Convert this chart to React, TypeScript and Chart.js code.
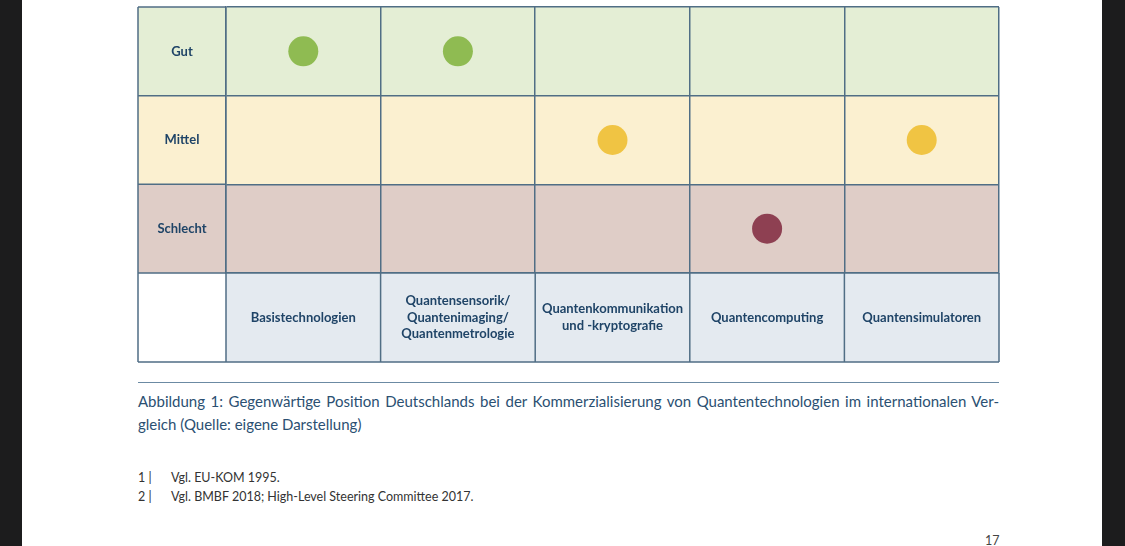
import React, { useEffect, useRef } from 'react';
import { Chart, registerables } from 'chart.js';

Chart.register(...registerables);

// ---- Data ----
const techKeys: string[] = [
  'Basistechnologien',
  'Quantensensorik',
  'Quantenkommunikation',
  'Quantencomputing',
  'Quantensimulatoren',
];
const techLabelLines: string[][] = [
  ['Basistechnologien'],
  ['Quantensensorik/', 'Quantenimaging/', 'Quantenmetrologie'],
  ['Quantenkommunikation', 'und -kryptografie'],
  ['Quantencomputing'],
  ['Quantensimulatoren'],
];
const ratingLevels: string[] = ['Gut', 'Mittel', 'Schlecht'];
const germanyPosition: string[] = ['Gut', 'Gut', 'Mittel', 'Schlecht', 'Mittel'];

const bandColors: string[] = ['#e4eed5', '#fbf0d0', '#dfcdc7'];
const dotColors: string[] = ['#8fbb52', '#f0c443', '#8e4052'];
const labelRowColor = '#e4eaf0';
const lineColor = '#506e85';
const textColor = '#1f4467';

const captionLine1 =
  'Abbildung 1: Gegenwärtige Position Deutschlands bei der Kommerzialisierung von Quantentechnologien im internationalen Ver-';
const captionLine2 = 'gleich (Quelle: eigene Darstellung)';
const footnotes: [string, string][] = [
  ['1 |', 'Vgl. EU-KOM 1995.'],
  ['2 |', 'Vgl. BMBF 2018; High-Level Steering Committee 2017.'],
];
const pageNumber = '17';

const tickFontFamily = 'Lato';
const tickFontSize = 13;
const tickLineHeight = 16.5;
const yAxisWidth = 88;
const xAxisHeight = 89;

const tablePlugin = {
  id: 'tableGrid',
  beforeDraw(chart: any) {
    const { ctx, chartArea } = chart;
    const x = chart.scales.x;
    const y = chart.scales.y;
    ctx.save();
    ratingLevels.forEach((_, i) => {
      const top = y.getPixelForValue(i - 0.5);
      const bottom = y.getPixelForValue(i + 0.5);
      ctx.fillStyle = bandColors[i];
      ctx.fillRect(y.left, top, chartArea.right - y.left, bottom - top);
    });
    ctx.fillStyle = '#ffffff';
    ctx.fillRect(y.left, x.top, chartArea.left - y.left, x.bottom - x.top);
    ctx.fillStyle = labelRowColor;
    ctx.fillRect(chartArea.left, x.top, chartArea.right - chartArea.left, x.bottom - x.top);
    ctx.restore();
  },
  beforeDatasetsDraw(chart: any) {
    const { ctx, chartArea } = chart;
    const x = chart.scales.x;
    const y = chart.scales.y;
    ctx.save();
    ctx.strokeStyle = lineColor;
    ctx.lineWidth = 1.5;
    ctx.beginPath();
    for (let i = 0; i <= ratingLevels.length; i++) {
      const py = y.getPixelForValue(i - 0.5);
      ctx.moveTo(y.left, py);
      ctx.lineTo(chartArea.left, py);
    }
    for (let i = 0; i <= techKeys.length; i++) {
      const px = x.getPixelForValue(i - 0.5);
      ctx.moveTo(px, x.top);
      ctx.lineTo(px, x.bottom);
    }
    ctx.moveTo(y.left, chartArea.top);
    ctx.lineTo(y.left, x.bottom);
    ctx.moveTo(y.left, x.bottom);
    ctx.lineTo(chartArea.right, x.bottom);
    ctx.stroke();
    ctx.restore();
  },
};

function TableChart() {
  const ref = useRef<HTMLCanvasElement | null>(null);
  useEffect(() => {
    if (!ref.current) return;
    const mctx = document.createElement('canvas').getContext('2d')!;
    mctx.font = `bold ${tickFontSize}px ${tickFontFamily}`;
    const widest = Math.max(...ratingLevels.map((l) => mctx.measureText(l).width));

    const chart = new Chart(ref.current, {
      type: 'scatter',
      data: {
        datasets: [
          {
            data: germanyPosition.map((p, i) => ({ x: techKeys[i], y: p })) as any,
            backgroundColor: germanyPosition.map((p) => dotColors[ratingLevels.indexOf(p)]),
            borderWidth: 0,
            pointRadius: 15,
            pointHoverRadius: 15,
          },
        ],
      },
      options: {
        animation: false,
        responsive: false,
        devicePixelRatio: 1,
        events: [],
        layout: { autoPadding: false, padding: { left: 8, right: 11, top: 7, bottom: 8 } },
        plugins: { legend: { display: false }, tooltip: { enabled: false }, title: { display: false } },
        scales: {
          x: {
            type: 'category',
            labels: techKeys,
            offset: true,
            position: 'bottom',
            grid: { display: true, offset: true, color: lineColor, lineWidth: 1.5, drawTicks: false },
            border: { display: true, color: lineColor, width: 1.5 },
            ticks: {
              autoSkip: false,
              maxRotation: 0,
              minRotation: 0,
              crossAlign: 'center',
              padding: xAxisHeight / 2 - tickLineHeight,
              color: textColor,
              font: { family: tickFontFamily, size: tickFontSize, weight: 'bold', lineHeight: tickLineHeight / tickFontSize },
              callback: (_v: any, i: number) => techLabelLines[i],
            },
            afterFit: (s: any) => {
              s.height = xAxisHeight;
              s.paddingLeft = 0;
              s.paddingRight = 0;
              s.paddingTop = 0;
              s.paddingBottom = 0;
            },
          } as any,
          y: {
            type: 'category',
            labels: ratingLevels,
            offset: true,
            position: 'left',
            grid: { display: true, offset: true, color: lineColor, lineWidth: 1.5, drawTicks: false },
            border: { display: true, color: lineColor, width: 1.5 },
            ticks: {
              autoSkip: false,
              crossAlign: 'center',
              padding: yAxisWidth / 2 - widest / 2,
              color: textColor,
              font: { family: tickFontFamily, size: tickFontSize, weight: 'bold' },
            },
            afterFit: (s: any) => {
              s.width = yAxisWidth;
              s.paddingLeft = 0;
              s.paddingRight = 0;
              s.paddingTop = 0;
              s.paddingBottom = 0;
            },
          } as any,
        },
      },
      plugins: [tablePlugin],
    });
    return () => chart.destroy();
  }, []);
  return <canvas ref={ref} width={880} height={370} style={{ position: 'absolute', left: 130, top: 0 }} />;
}

export default function App() {
  return (
    <div style={{ position: 'absolute', left: 0, top: 0, width: 1125, height: 546, background: '#ffffff', overflow: 'hidden', fontFamily: 'Lato, sans-serif' }}>
      <div style={{ position: 'absolute', left: 0, top: 0, width: 22, height: 546, background: '#1c1c1d' }} />
      <div style={{ position: 'absolute', left: 1102, top: 0, width: 23, height: 546, background: '#1c1c1d' }} />
      <TableChart />
      <div style={{ position: 'absolute', left: 138, top: 382, width: 861, height: 1, background: '#6b8aa3' }} />
      <div style={{ position: 'absolute', left: 138, top: 390, width: 861, fontSize: 15, lineHeight: '23px', color: '#2b5072' }}>
        <div style={{ whiteSpace: 'nowrap', textAlign: 'justify', textAlignLast: 'justify' as any }}>{captionLine1}</div>
        <div style={{ whiteSpace: 'nowrap' }}>{captionLine2}</div>
      </div>
      <div style={{ position: 'absolute', left: 138, top: 467.5, fontSize: 12.5, lineHeight: '19px', color: '#333333' }}>
        {footnotes.map(([n, t]) => (
          <div key={n} style={{ display: 'flex' }}>
            <span style={{ width: 33, display: 'inline-block' }}>{n}</span>
            <span>{t}</span>
          </div>
        ))}
      </div>
      <div style={{ position: 'absolute', left: 985, top: 533, fontSize: 12.5, lineHeight: '16px', color: '#444444' }}>{pageNumber}</div>
    </div>
  );
}
